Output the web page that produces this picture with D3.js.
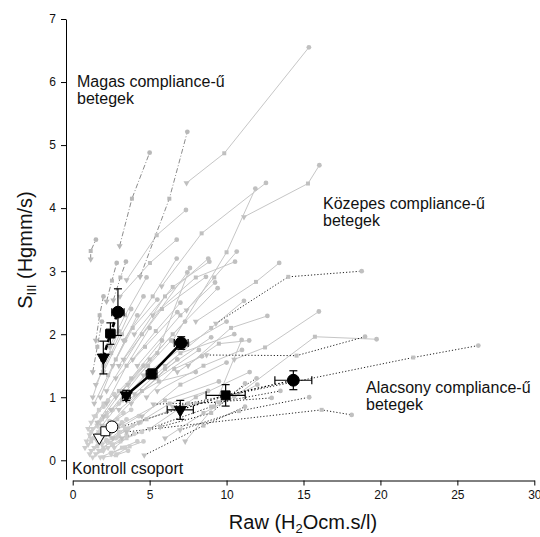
<!DOCTYPE html>
<html>
<head>
<meta charset="utf-8">
<script src="https://cdn.jsdelivr.net/npm/d3@7"></script>
<style>
body { margin: 0; background: #fff; }
text { font-family: "Liberation Sans", Arial, sans-serif; }
</style>
</head>
<body>
<svg width="540" height="537"></svg>
<script>
// individual patients: [triangle, square, circle] points, x = Raw, y = SIII
var kontrollLines = [
  [[1.0,0.25],[1.4,0.35],[1.9,0.5]], [[1.2,0.15],[1.8,0.3],[2.5,0.45]],
  [[1.5,0.1],[2.0,0.2],[2.8,0.35]], [[1.1,0.4],[1.6,0.55],[2.2,0.7]],
  [[1.6,0.3],[2.3,0.45],[3.2,0.6]], [[2.0,0.15],[2.6,0.25],[3.5,0.4]],
  [[1.3,0.5],[1.9,0.65],[2.6,0.8]], [[1.8,0.05],[2.5,0.12],[3.4,0.2]],
  [[2.2,0.3],[3.0,0.45],[3.9,0.55]], [[0.9,0.3],[1.2,0.45],[1.7,0.6]],
  [[1.4,0.2],[2.1,0.4],[2.9,0.55]], [[2.5,0.1],[3.2,0.2],[4.2,0.3]],
  [[1.7,0.45],[2.4,0.6],[3.3,0.75]], [[1.2,0.6],[1.7,0.8],[2.3,0.95]],
  [[2.4,0.4],[3.3,0.55],[4.3,0.7]], [[1.5,0.35],[2.0,0.5],[2.7,0.6]],
  [[2.0,0.05],[2.8,0.08],[3.6,0.15]], [[1.0,0.5],[1.5,0.7],[2.0,0.85]],
  [[1.3,0.05],[1.9,0.15],[2.6,0.25]], [[2.7,0.2],[3.5,0.35],[4.5,0.45]],
  [[1.9,0.25],[2.6,0.35],[3.6,0.5]], [[1.1,0.1],[1.6,0.22],[2.2,0.32]],
  [[2.1,0.5],[2.9,0.65],[3.8,0.8]], [[0.8,0.2],[1.2,0.3],[1.6,0.4]],
  [[1.4,0.7],[2.0,0.9],[2.7,1.05]], [[2.3,0.2],[3.1,0.3],[4.0,0.42]],
  [[1.7,0.15],[2.4,0.28],[3.0,0.38]], [[2.6,0.35],[3.4,0.5],[4.4,0.6]],
  [[1.2,0.35],[1.8,0.5],[2.4,0.62]], [[2.9,0.1],[3.7,0.22],[4.6,0.3]],
  [[1.6,0.55],[2.2,0.75],[3.0,0.9]], [[2.0,0.4],[2.7,0.5],[3.5,0.65]]
];

var kozepesLines = [
  [[7.4,4.4],[9.85,4.87],[15.35,6.55]], [[11.13,3.86],[15.29,4.39],[16.03,4.68]],
  [[5.78,2.76],[8.38,3.6],[12.56,4.4]], [[6.5,1.9],[10.0,3.3],[11.87,4.31]],
  [[3.5,2.86],[5.46,3.57],[7.36,3.97]], [[3.07,2.6],[5.02,3.13],[6.76,3.5]],
  [[7.4,2.38],[9.2,2.9],[10.66,3.31]], [[5.2,2.3],[8.0,2.9],[10.55,3.15]],
  [[3.0,1.5],[6.0,2.6],[8.81,3.2]], [[4.0,2.0],[6.5,2.75],[8.88,3.15]],
  [[8.0,2.2],[11.91,2.83],[13.42,3.13]], [[6.0,1.5],[9.0,2.1],[11.13,2.53]],
  [[10.5,1.6],[12.5,1.79],[16.0,2.36]], [[10.5,1.0],[15.74,1.96],[19.75,1.92]],
  [[7.5,1.5],[10.29,2.1],[12.65,2.29]], [[7.31,0.3],[9.2,0.85],[10.98,1.91]],
  [[2.5,0.8],[5.5,1.7],[7.62,3.05]], [[2.2,1.1],[4.5,2.0],[7.45,2.98]],
  [[3.3,1.6],[5.8,2.4],[8.66,2.91]], [[4.2,1.5],[7.0,2.3],[9.25,2.82]],
  [[3.6,1.2],[6.5,2.0],[9.42,2.73]], [[2.8,1.0],[5.0,1.6],[7.3,2.2]],
  [[3.0,0.8],[5.5,1.3],[8.2,1.75]], [[3.8,0.9],[6.0,1.45],[9.0,1.95]],
  [[2.5,0.6],[4.5,1.1],[6.8,1.6]], [[4.5,0.7],[7.0,1.2],[10.0,1.55]],
  [[5.0,0.5],[8.0,1.0],[11.5,1.4]], [[3.0,0.55],[6.0,0.95],[9.5,1.25]],
  [[6.0,0.35],[8.5,0.75],[12.0,1.2]], [[2.2,0.9],[3.5,1.5],[5.0,2.1]],
  [[1.8,1.0],[2.8,1.6],[4.2,2.3]], [[2.0,1.4],[3.2,2.0],[4.6,2.6]],
  [[2.4,1.8],[3.4,2.3],[4.8,2.9]], [[1.5,1.2],[2.5,1.7],[3.8,2.4]],
  [[3.3,1.9],[5.2,2.6],[6.76,3.2]], [[4.0,1.05],[7.0,1.7],[10.5,2.0]],
  [[2.8,1.3],[4.7,1.8],[6.8,2.35]], [[3.5,0.95],[5.6,1.25],[8.0,1.4]],
  [[4.3,0.6],[6.3,0.9],[8.8,1.1]], [[2.6,0.35],[4.8,0.65],[7.5,0.9]],
  [[1.6,0.6],[3.0,1.1],[4.6,1.5]], [[2.0,0.7],[3.8,1.3],[5.8,1.9]],
  [[6.8,1.4],[9.5,1.85],[11.47,1.9]], [[4.6,1.35],[7.5,1.85],[10.0,2.2]],
  [[5.5,1.1],[8.5,1.5],[11.0,1.75]], [[1.4,0.9],[2.3,1.35],[3.4,1.9]],
  [[1.9,0.55],[3.2,0.95],[4.9,1.4]], [[3.2,1.1],[4.9,1.5],[6.4,1.9]],
  [[1.3,1.0],[2.0,1.5],[3.0,2.05]], [[2.6,1.5],[3.9,2.1],[5.5,2.55]],
  [[4.8,1.0],[6.6,1.45],[8.4,1.65]], [[3.9,1.6],[5.4,2.05],[7.0,2.5]]
];

var magasLines = [
  [[3.05,3.4],[3.85,4.15],[5.0,4.88]], [[4.38,2.91],[6.28,4.15],[7.45,5.21]],
  [[1.17,3.19],[1.17,3.32],[1.51,3.5]], [[2.2,2.52],[2.55,2.85],[2.86,3.13]],
  [[2.64,2.54],[3.1,2.9],[3.46,3.15]], [[1.5,1.9],[1.75,2.3],[2.0,2.6]],
  [[1.3,1.4],[1.6,1.8],[1.9,2.2]]
];

var alacsonyLines = [
  [[9.31,2.17],[14.01,2.91],[18.78,3.0]], [[8.7,1.67],[14.55,1.66],[19.0,1.96]],
  [[6.5,0.85],[22.13,1.63],[26.36,1.82]], [[3.5,0.45],[16.18,0.8],[18.13,0.72]],
  [[6.98,0.48],[10.8,0.78],[15.37,1.0]], [[4.65,0.08],[8.5,0.55],[11.2,0.85]],
  [[2.8,0.5],[8.0,0.9],[12.93,0.99]], [[3.2,0.35],[9.0,0.85],[11.95,1.3]],
  [[5.24,0.89],[9.5,0.92],[13.5,1.1]], [[5.68,0.53],[9.0,0.75],[11.2,1.22]]
];

// group means [triangle, square, circle] and their errors [dx, dy]
var kontrollMeans = [[1.73,0.36],[2.12,0.46],[2.55,0.53]];
var magasMeans = [[1.99,1.63],[2.45,2.01],[2.94,2.35]];
var magasErr = [[0.15,0.26],[0.3,0.17],[0.4,0.37]];
var kozepesMeans = [[3.48,1.03],[5.13,1.37],[7.05,1.86]];
var kozepesErr = [[0.25,0.08],[0.35,0.08],[0.45,0.1]];
var alacsonyMeans = [[6.99,0.8],[9.94,1.03],[14.34,1.27]];
var alacsonyErr = [[0.85,0.15],[1.27,0.17],[1.2,0.15]];

var yTicks = [0,1,2,3,4,5,6,7];
var xTicks = [0,5,10,15,20,25,30];

var svg = d3.select("svg");
var x = d3.scaleLinear().domain([0,30]).range([72.7,534.3]);
var y = d3.scaleLinear().domain([-0.3,7]).range([479.2,19]);

var line = d3.line().x(function(d) { return x(d[0]); }).y(function(d) { return y(d[1]); });

var symTypes = [d3.symbolTriangle, d3.symbolSquare, d3.symbolCircle];
function sym(i, size) {
  return d3.symbol().type(symTypes[i]).size(size)();
}
function symTransform(d, i) {
  return "translate(" + x(d[0]) + "," + y(d[1]) + ")" + (i === 0 ? " rotate(180)" : "");
}

// axes
svg.append("g")
    .attr("transform", "translate(66,0)")
    .call(d3.axisLeft(y).tickValues(yTicks).tickSize(5).tickSizeOuter(0).tickPadding(5));
svg.append("g")
    .attr("transform", "translate(0,480.5)")
    .call(d3.axisBottom(x).tickValues(xTicks).tickSize(5).tickSizeOuter(0).tickPadding(5));
svg.selectAll(".tick text").attr("font-size", 12).attr("fill", "#111")
    .style("font-family", "'Liberation Sans', Arial, sans-serif");
svg.selectAll(".domain, .tick line").attr("stroke", "#000");

// patient lines
function drawLines(data, stroke, dash, width) {
  svg.append("g").selectAll("path")
    .data(data)
    .enter()
    .append("path")
    .attr("d", line)
    .attr("fill", "none")
    .attr("stroke", stroke)
    .attr("stroke-width", width)
    .attr("stroke-dasharray", dash);
}
function drawPatientMarkers(data, fill) {
  var g = svg.append("g");
  data.forEach(function(pts) {
    pts.forEach(function(p, i) {
      g.append("path")
        .attr("d", sym(i, i === 2 ? 18 : 16))
        .attr("transform", symTransform(p, i))
        .attr("fill", fill);
    });
  });
}

drawLines(kontrollLines, "#c8c8c8", null, 1);
drawLines(kozepesLines, "#c6c6c6", null, 1);
drawLines(magasLines, "#8c8c8c", "5,2,1,2", 1);
drawLines(alacsonyLines, "#222", "1.2,2", 1);
drawPatientMarkers(kontrollLines, "#cdcdcd");
drawPatientMarkers(kozepesLines, "#c0c0c0");
drawPatientMarkers(magasLines, "#b8b8b8");
drawPatientMarkers(alacsonyLines, "#c0c0c0");

// mean lines
svg.append("path").datum(kozepesMeans).attr("d", line)
    .attr("fill", "none").attr("stroke", "#000").attr("stroke-width", 2.6);
svg.append("path").datum(magasMeans).attr("d", line)
    .attr("fill", "none").attr("stroke", "#000").attr("stroke-width", 2.6)
    .attr("stroke-dasharray", "5,3");
svg.append("path").datum(alacsonyMeans).attr("d", line)
    .attr("fill", "none").attr("stroke", "#000").attr("stroke-width", 1.3)
    .attr("stroke-dasharray", "1.5,2");
svg.append("path").datum(kontrollMeans).attr("d", line)
    .attr("fill", "none").attr("stroke", "#000").attr("stroke-width", 1);

// error bars
function drawErrors(means, errs) {
  var g = svg.append("g").attr("stroke", "#000").attr("stroke-width", 1.2);
  means.forEach(function(m, i) {
    var e = errs[i], cx = x(m[0]), cy = y(m[1]);
    var x0 = x(m[0] - e[0]), x1 = x(m[0] + e[0]);
    var y0 = y(m[1] - e[1]), y1 = y(m[1] + e[1]);
    g.append("line").attr("x1", x0).attr("x2", x1).attr("y1", cy).attr("y2", cy);
    g.append("line").attr("x1", cx).attr("x2", cx).attr("y1", y0).attr("y2", y1);
    [x0, x1].forEach(function(v) {
      g.append("line").attr("x1", v).attr("x2", v).attr("y1", cy - 4).attr("y2", cy + 4);
    });
    [y0, y1].forEach(function(v) {
      g.append("line").attr("x1", cx - 4).attr("x2", cx + 4).attr("y1", v).attr("y2", v);
    });
  });
}
drawErrors(magasMeans, magasErr);
drawErrors(kozepesMeans, kozepesErr);
drawErrors(alacsonyMeans, alacsonyErr);

// mean markers
var meanSizes = [62, 80, 110];
function drawMeans(means, fill) {
  svg.append("g").selectAll("path")
    .data(means)
    .enter()
    .append("path")
    .attr("d", function(d, i) { return sym(i, meanSizes[i]); })
    .attr("transform", symTransform)
    .attr("fill", fill)
    .attr("stroke", "#000")
    .attr("stroke-width", 1);
}
drawMeans(magasMeans, "#000");
drawMeans(kozepesMeans, "#000");
drawMeans(alacsonyMeans, "#000");
drawMeans(kontrollMeans, "#fff");

// annotations
function label(lines, px, py) {
  var t = svg.append("text").attr("font-size", 16).attr("fill", "#111");
  lines.forEach(function(s, i) {
    t.append("tspan").attr("x", px).attr("y", py + i * 17).text(s);
  });
}
label(["Magas compliance-ű", "betegek"], 77, 87);
label(["Közepes compliance-ű", "betegek"], 323, 209);
label(["Alacsony compliance-ű", "betegek"], 366, 393);
label(["Kontroll csoport"], 72, 474);

// axis titles
var xt = svg.append("text").attr("x", 303).attr("y", 529).attr("text-anchor", "middle")
    .attr("font-size", 20).attr("fill", "#111");
xt.append("tspan").text("Raw (H");
xt.append("tspan").attr("font-size", 13).attr("dy", 4).text("2");
xt.append("tspan").attr("dy", -4).text("Ocm.s/l)");

var yt = svg.append("text").attr("transform", "translate(32,250) rotate(-90)")
    .attr("text-anchor", "middle").attr("font-size", 20).attr("fill", "#111");
yt.append("tspan").text("S");
yt.append("tspan").attr("font-size", 13).attr("dy", 4).text("III");
yt.append("tspan").attr("dy", -4).text(" (Hgmm/s)");
</script>
</body>
</html>
